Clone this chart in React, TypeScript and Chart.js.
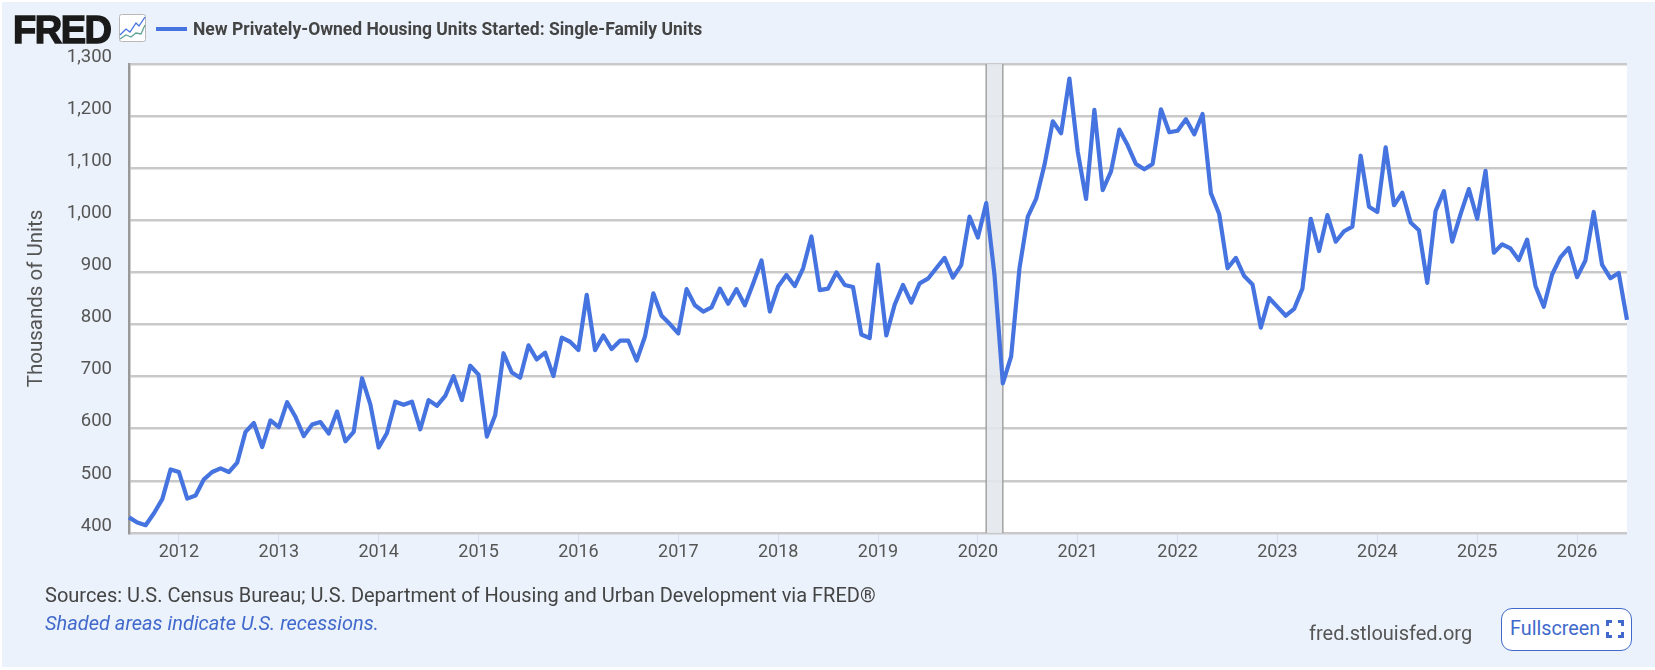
import React, { useEffect, useRef } from 'react';
import { Chart, registerables } from 'chart.js';

Chart.register(...registerables);

const TITLE = 'New Privately-Owned Housing Units Started: Single-Family Units';
const AXIS_TITLE = 'Thousands of Units';

// monthly, Jul 2011 .. Jul 2026
const monthNames = ['01', '02', '03', '04', '05', '06', '07', '08', '09', '10', '11', '12'];
const months: string[] = [];
for (let i = 0; i < 181; i++) {
    const m = i + 6;
    months.push(2011 + Math.floor(m / 12) + '-' + monthNames[m % 12]);
}

const starts = [
    430, 420, 415, 438, 465, 522,
    517, 466, 472, 503, 517, 524, 517, 535, 594, 611, 565, 616,
    603, 651, 623, 586, 608, 613, 591, 633, 576, 594, 697, 647,
    564, 592, 652, 646, 652, 599, 655, 644, 663, 701, 655, 721,
    704, 585, 626, 745, 708, 698, 760, 733, 746, 701, 775, 767,
    751, 857, 751, 779, 753, 769, 769, 731, 777, 860, 817, 801,
    783, 868, 837, 825, 833, 869, 840, 868, 837, 879, 923, 825,
    873, 895, 874, 908, 969, 866, 869, 900, 876, 872, 781, 774,
    915, 779, 838, 876, 842, 879, 888, 908, 928, 890, 914, 1007,
    967, 1033, 895, 687, 739, 908, 1007, 1041, 1106, 1190, 1167, 1272,
    1132, 1041, 1212, 1058, 1094, 1174, 1144, 1108, 1098, 1108, 1213, 1169,
    1172, 1194, 1165, 1204, 1052, 1012, 908, 928, 893, 877, 794, 851,
    834, 817, 830, 869, 1003, 941, 1010, 959, 979, 988, 1124, 1026,
    1016, 1140, 1029, 1053, 996, 981, 880, 1018, 1056, 959, 1012, 1060,
    1003, 1095, 938, 954, 946, 924, 963, 874, 834, 896, 929, 947,
    891, 923, 1016, 915, 889, 899, 809,
];

const recession = ['2020-02', '2020-04'];

const LINE = '#4573E0';
const BG = '#EBF2FB';
const TEXT = '#555555';
const BLUE_TEXT = '#4169CC';
const FONT = 'Roboto, sans-serif';

// white plot area, drawn under the grid
const plotBackground = {
    id: 'plotBackground',
    beforeDraw(chart: any) {
        const { ctx, chartArea: a } = chart;
        ctx.save();
        ctx.fillStyle = '#ffffff';
        ctx.fillRect(a.left, a.top, a.right - a.left, a.bottom - a.top);
        ctx.restore();
    },
};

// recession band, between grid and line
const recessionBand = {
    id: 'recessionBand',
    beforeDatasetsDraw(chart: any) {
        const { ctx, chartArea: a, scales } = chart;
        const x0 = scales.x.getPixelForValue(months.indexOf(recession[0]));
        const x1 = scales.x.getPixelForValue(months.indexOf(recession[1]));
        ctx.save();
        ctx.fillStyle = 'rgba(226,230,236,0.88)';
        ctx.fillRect(x0, a.top, x1 - x0, a.bottom - a.top);
        ctx.strokeStyle = '#a3a3a3';
        ctx.lineWidth = 1.5;
        for (const x of [x0, x1]) {
            ctx.beginPath();
            ctx.moveTo(x, a.top);
            ctx.lineTo(x, a.bottom);
            ctx.stroke();
        }
        ctx.restore();
    },
};

const box = (o: React.CSSProperties): React.CSSProperties => ({ position: 'absolute', whiteSpace: 'nowrap', fontFamily: FONT, ...o });

const App = () => {
    const chartRef = useRef<HTMLCanvasElement>(null);

    useEffect(() => {
        if (!chartRef.current) return;
        const myChart = new Chart(chartRef.current, {
            type: 'line',
            data: {
                labels: months,
                datasets: [{
                    label: TITLE,
                    data: starts,
                    borderColor: LINE,
                    borderWidth: 4.2,
                    pointRadius: 0,
                    tension: 0,
                    borderJoinStyle: 'round',
                }],
            },
            options: {
                animation: false,
                responsive: false,
                layout: { padding: { top: 64, right: 28, left: 0, bottom: 0 } },
                plugins: { legend: { display: false }, tooltip: { enabled: false } },
                scales: {
                    x: {
                        afterBuildTicks: (axis: any) => {
                            axis.ticks = axis.ticks.filter((t: any) => months[t.value].endsWith('-01'));
                        },
                        afterFit: (axis: any) => { axis.height = 137; },
                        border: { display: false },
                        grid: { drawOnChartArea: false, drawTicks: true, tickLength: 11, tickColor: '#D6DDEC', lineWidth: 1 },
                        ticks: {
                            autoSkip: false,
                            maxRotation: 0,
                            padding: -2,
                            color: TEXT,
                            font: { family: FONT, size: 18 },
                            callback: (value: any) => months[value].slice(0, 4),
                        },
                    },
                    y: {
                        min: 400,
                        max: 1300,
                        afterFit: (axis: any) => { axis.width = 129; },
                        border: { display: true, color: '#999999', width: 2.5 },
                        grid: { color: '#C9C9C9', lineWidth: 2.6, drawTicks: false },
                        title: {
                            display: true,
                            text: AXIS_TITLE,
                            color: TEXT,
                            font: { family: FONT, size: 20.5 },
                            padding: { top: 25, bottom: 0 },
                        },
                        ticks: {
                            stepSize: 100,
                            padding: 17,
                            color: TEXT,
                            font: { family: FONT, size: 18.5, lineHeight: '14px' },
                            // empty second line lifts the label above its grid line
                            callback: (value: any) => [Number(value).toLocaleString('en-US'), ''],
                        },
                    },
                },
            },
            plugins: [plotBackground, recessionBand],
        } as any);
        return () => {
            myChart.destroy();
        };
    }, []);

    return (
        <div style={{ position: 'absolute', left: 0, top: 0, width: 1655, height: 670, background: '#ffffff', overflow: 'hidden' }}>
            <div style={{ position: 'absolute', left: 2, top: 2, right: 0, bottom: 3, background: BG }} />
            <canvas ref={chartRef} width={1655} height={670} style={{ position: 'absolute', left: 0, top: 0 }} />

            <div style={box({ left: 13, top: 10, fontFamily: '"Liberation Sans", sans-serif', fontWeight: 700, fontSize: 38, lineHeight: '40px', letterSpacing: -1.5, color: '#1a1a1a', WebkitTextStroke: '1.4px #1a1a1a' })}>FRED</div>
            <svg width="28" height="29" style={{ position: 'absolute', left: 119, top: 14 }}>
                <rect x="0.5" y="0.5" width="26" height="27" rx="2" fill="#ffffff" stroke="#b8b8b8" />
                <polyline points="1,21 7,15 11,18 17,9 20,12 26,3" fill="none" stroke="#4573E0" strokeWidth="1.3" />
                <polyline points="1,25 7,21 12,23 17,19 22,20 26,11" fill="none" stroke="#5FA396" strokeWidth="1.3" />
            </svg>
            <div style={{ position: 'absolute', left: 156, top: 27, width: 31, height: 4, background: LINE }} />
            <div style={box({ left: 193, top: 18, fontWeight: 700, fontSize: 17.5, lineHeight: '22px', color: '#444444' })}>{TITLE}</div>

            <div style={box({ left: 45, top: 583, fontSize: 20, lineHeight: '24px', color: '#444444' })}>
                Sources: U.S. Census Bureau; U.S. Department of Housing and Urban Development via FRED®
            </div>
            <div style={box({ left: 45, top: 611, fontSize: 20, lineHeight: '24px', fontStyle: 'italic', color: BLUE_TEXT })}>
                Shaded areas indicate U.S. recessions.
            </div>
            <div style={box({ left: 1309, top: 621, fontSize: 20, lineHeight: '24px', color: '#555555' })}>fred.stlouisfed.org</div>

            <div style={{ position: 'absolute', left: 1501, top: 608, width: 129, height: 41, border: '1px solid #4169CC', borderRadius: 11, background: '#ffffff' }} />
            <div style={box({ left: 1510, top: 617, fontSize: 19.8, lineHeight: '24px', color: BLUE_TEXT })}>Fullscreen</div>
            <svg width="18" height="18" style={{ position: 'absolute', left: 1606, top: 620 }}>
                <path d="M1.5,6 V1.5 H6 M12,1.5 H16.5 V6 M16.5,12 V16.5 H12 M6,16.5 H1.5 V12" fill="none" stroke={BLUE_TEXT} strokeWidth="3" />
            </svg>
        </div>
    );
};

export default App;
